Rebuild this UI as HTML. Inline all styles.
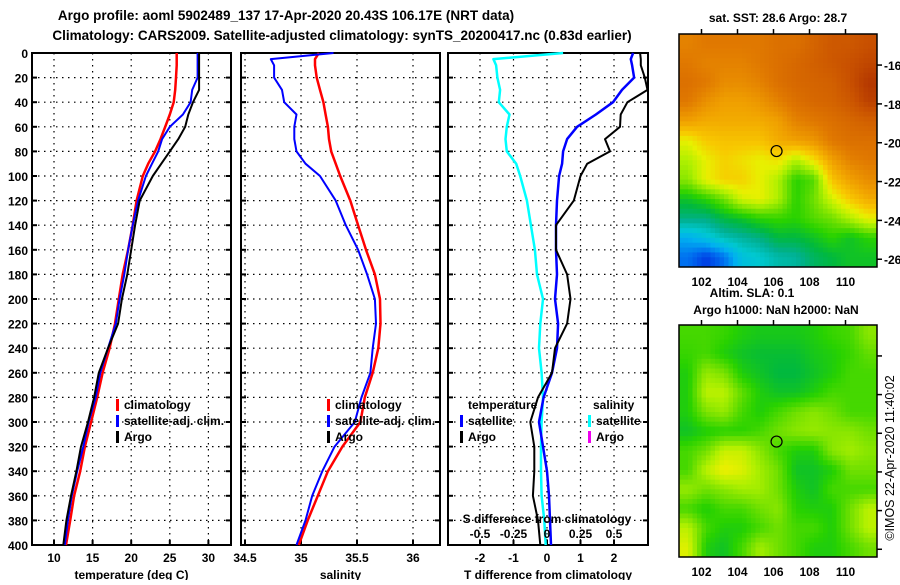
<!DOCTYPE html>
<html><head><meta charset="utf-8"><style>
body{margin:0;background:#fff;width:900px;height:580px;overflow:hidden}
svg text{font-family:"Liberation Sans",sans-serif;font-weight:bold;font-size:12px;fill:#000}
</style></head><body>
<svg id="fig" width="900" height="580" xmlns="http://www.w3.org/2000/svg">
<text x="286" y="20" text-anchor="middle" style="font-size:13.5px">Argo profile: aoml 5902489_137 17-Apr-2020 20.43S 106.17E (NRT data)</text>
<text x="342" y="40" text-anchor="middle" style="font-size:13.5px">Climatology: CARS2009. Satellite-adjusted climatology: synTS_20200417.nc (0.83d earlier)</text>
<text x="778" y="22" text-anchor="middle">sat. SST: 28.6 Argo: 28.7</text>
<text x="752" y="297" text-anchor="middle">Altim. SLA: 0.1</text>
<text x="776" y="314" text-anchor="middle">Argo h1000: NaN h2000: NaN</text>
<text transform="translate(894,458) rotate(-90)" text-anchor="middle" style="font-weight:normal;font-size:12.5px">©IMOS 22-Apr-2020 11:40:02</text>
</svg>
<script>
const depths=[0,5,10,20,30,40,50,60,70,80,90,100,120,140,160,180,200,220,240,260,280,300,320,340,360,380,400];
const tempClim=[25.9,25.9,25.9,25.8,25.7,25.5,25.0,24.4,23.8,23.1,22.2,21.5,20.7,20.2,19.6,18.9,18.4,17.9,17.2,16.3,15.6,14.8,14.0,13.4,12.6,12.1,11.55];
const tempSat=[28.6,28.6,28.6,28.6,27.9,27.7,26.7,25.0,24.0,23.5,22.7,21.9,20.9,20.2,19.6,19.1,18.5,18.0,17.0,16.0,15.4,14.5,13.8,13.0,12.3,11.8,11.4];
const tempArgo=[28.8,28.8,28.8,28.8,28.8,28.0,27.4,27.0,26.1,25.0,23.9,22.8,21.1,20.5,20.0,19.5,18.8,18.3,17.0,15.8,15.2,14.4,13.5,12.9,12.2,11.6,11.2];
const salClim=[35.16,35.125,35.125,35.14,35.17,35.2,35.22,35.24,35.25,35.27,35.31,35.35,35.44,35.51,35.58,35.66,35.705,35.71,35.69,35.64,35.57,35.53,35.37,35.24,35.15,35.06,34.98];
const salSat=[35.29,34.73,34.76,34.76,34.83,34.85,34.96,34.94,34.94,34.96,35.04,35.17,35.31,35.4,35.51,35.59,35.66,35.67,35.64,35.62,35.54,35.48,35.3,35.19,35.1,35.04,34.96];
const tDiffSat=[2.57,2.5,2.54,2.6,2.24,1.97,1.46,0.9,0.6,0.48,0.45,0.36,0.3,0.27,0.27,0.3,0.24,0.33,0.3,0.15,-0.1,-0.24,-0.12,0,0.06,0.09,0.12];
const tDiffArgo=[2.78,2.8,2.8,2.92,3.0,2.4,2.2,2.18,1.73,1.88,1.2,1.0,0.8,0.27,0.27,0.6,0.7,0.6,0.24,0.15,-0.27,-0.5,-0.38,-0.38,-0.42,-0.27,-0.2];
const sDiffSat=[0.12,-0.4,-0.38,-0.37,-0.35,-0.36,-0.28,-0.3,-0.31,-0.3,-0.23,-0.2,-0.15,-0.12,-0.09,-0.075,-0.03,-0.05,-0.06,-0.04,-0.03,-0.04,-0.045,-0.045,-0.04,-0.02,-0.01];
const depthTicks=[0,20,40,60,80,100,120,140,160,180,200,220,240,260,280,300,320,340,360,380,400];
const tempTicks=[10,15,20,25,30];
const salTicks=[34.5,35,35.5,36];
const tDiffTicks=[-2,-1,0,1,2];
const sDiffTicks=[-0.5,-0.25,0,0.25,0.5];
const sDiffTickLabels=["-0.5","-0.25","0","0.25","0.5"];
const latTicks=[-16,-18,-20,-22,-24,-26];
const lonTicks=[102,104,106,108,110];
const argoLon=106.17, argoLat=-20.43;
const sstGrid=[
[.78,.8,.8,.8,.8,.82,.82,.85,.88,.88,.9],
[.8,.78,.78,.78,.8,.82,.84,.86,.88,.9,.92],
[.82,.8,.76,.76,.78,.82,.84,.85,.86,.9,.95],
[.8,.75,.72,.72,.74,.78,.82,.84,.85,.88,.93],
[.72,.7,.7,.7,.7,.72,.78,.8,.82,.84,.86],
[.6,.65,.66,.66,.66,.7,.72,.74,.8,.82,.82],
[.55,.6,.64,.62,.6,.62,.55,.62,.72,.78,.8],
[.52,.6,.64,.64,.6,.55,.45,.48,.66,.72,.76],
[.42,.45,.5,.58,.6,.55,.45,.5,.58,.65,.7],
[.36,.36,.4,.42,.45,.46,.45,.48,.5,.55,.6],
[.25,.28,.32,.34,.36,.4,.4,.42,.45,.42,.45],
[.2,.16,.2,.28,.3,.33,.34,.38,.4,.42,.42]];
const slaGrid=[
[.47,.47,.46,.44,.43,.43,.43,.44,.46,.47,.52],
[.46,.47,.44,.42,.41,.41,.41,.43,.44,.46,.49],
[.44,.53,.51,.44,.42,.4,.4,.42,.44,.47,.47],
[.44,.56,.56,.49,.44,.42,.42,.44,.47,.47,.47],
[.44,.51,.53,.47,.44,.47,.5,.52,.5,.47,.47],
[.42,.44,.45,.45,.47,.5,.52,.53,.52,.52,.5],
[.47,.5,.57,.57,.52,.47,.44,.44,.52,.54,.52],
[.47,.56,.61,.59,.54,.5,.42,.42,.44,.5,.5],
[.53,.5,.52,.54,.54,.5,.44,.42,.47,.47,.47],
[.47,.44,.47,.47,.5,.52,.45,.44,.44,.5,.56],
[.56,.47,.44,.44,.47,.5,.47,.47,.44,.5,.56],
[.59,.44,.42,.47,.54,.5,.47,.44,.44,.47,.5]];

const NS="http://www.w3.org/2000/svg";
const svg=document.getElementById('fig');
function mk(tag,attrs,parent){const e=document.createElementNS(NS,tag);for(const k in attrs)e.setAttribute(k,attrs[k]);(parent||svg).appendChild(e);return e;}
const Y=d=>53+d*1.23;
const PY0=53,PY1=545;
const tX=v=>54+(v-10)*7.72;
const sX=v=>301+(v-35)*112;
const dX=v=>547+v*33.5;
const sdX=v=>547+v*134;

function panel(name,x0,x1,ticks,fx,labels,xlabel,leftLabels){
  const g=mk('g',{});
  
  
  depthTicks.forEach(d=>{if(d>0&&d<400){const l=mk('line',{x1:x0,x2:x1,y1:Y(d),y2:Y(d),stroke:'#000','stroke-width':1.2,'stroke-dasharray':'1.5,4.5'},g);}
    const tk=mk('line',{x1:x0,x2:x0+5,y1:Y(d),y2:Y(d),stroke:'#000','stroke-width':2},g);
    const tk2=mk('line',{x1:x1-5,x2:x1,y1:Y(d),y2:Y(d),stroke:'#000','stroke-width':2},g);
    if(leftLabels){const t=mk('text',{x:x0-4,y:Y(d)+5,'text-anchor':'end'},g);t.textContent=d;}
  });
  ticks.forEach((v,i)=>{const x=fx(v);
    const l=mk('line',{x1:x,x2:x,y1:PY0,y2:PY1,stroke:'#000','stroke-width':1.2,'stroke-dasharray':'1.5,4.5'},g);
    const tk=mk('line',{x1:x,x2:x,y1:PY1-5,y2:PY1,stroke:'#000','stroke-width':2},g);
    const t=mk('text',{x:x,y:562,'text-anchor':'middle'},g);t.textContent=labels?labels[i]:v;
  });
  const r=mk('rect',{x:x0,y:PY0,width:x1-x0,height:PY1-PY0,fill:'none',stroke:'#000','stroke-width':2},g);
  
  const xl=mk('text',{x:(x0+x1)/2,y:579,'text-anchor':'middle'},g);xl.textContent=xlabel;
  
  return g;
}
function series(name,vals,fx,color,w,g){
  let d='';
  vals.forEach((v,i)=>{const x=fx(v),y=Y(depths[i]);d+=(i?'L':'M')+x.toFixed(1)+','+y.toFixed(1);});
  const p=mk('path',{d:d,fill:'none',stroke:color,'stroke-width':w,'stroke-linejoin':'round'},g);
  
  
}
function legend(g,x,y,items){
  items.forEach((it,i)=>{
    const m=mk('rect',{x:x,y:y+i*16-10,width:3,height:12,fill:it[1]},g);
    
    
    const t=mk('text',{x:x+8,y:y+i*16},g);t.textContent=it[0];
    
    
  });
}
const g1=panel('temperature-panel',32,231,tempTicks,tX,null,'temperature (deg C)',true);
series('temp-climatology-line',tempClim,tX,'#f00',2.5,g1);
series('temp-satellite-line',tempSat,tX,'#00f',2,g1);
series('temp-argo-line',tempArgo,tX,'#000',2,g1);
legend(g1,116,409,[['climatology','#f00'],['satellite-adj. clim.','#00f'],['Argo','#000']]);

const g2=panel('salinity-panel',241,440,salTicks,sX,null,'salinity',false);
series('sal-climatology-line',salClim,sX,'#f00',2.5,g2);
series('sal-satellite-line',salSat,sX,'#00f',2,g2);
legend(g2,327,409,[['climatology','#f00'],['satellite-adj. clim.','#00f'],['Argo','#000']]);

const g3=panel('difference-panel',448,648,tDiffTicks,dX,null,'T difference from climatology',false);
series('s-diff-satellite-line',sDiffSat,sdX,'#0ff',2.5,g3);
series('t-diff-satellite-line',tDiffSat,dX,'#00f',2.5,g3);
series('t-diff-argo-line',tDiffArgo,dX,'#000',2,g3);
let tt=mk('text',{x:468,y:409},g3);tt.textContent='temperature';
tt=mk('text',{x:593,y:409},g3);tt.textContent='salinity';
legend(g3,460,425,[['satellite','#00f'],['Argo','#000']]);
legend(g3,588,425,[['satellite','#0ff'],['Argo','#e0e']]);
tt=mk('text',{x:547,y:523,'text-anchor':'middle'},g3);tt.textContent='S difference  from climatology';
sDiffTicks.forEach((v,i)=>{const t=mk('text',{x:sdX(v),y:538,'text-anchor':'middle'},g3);t.textContent=sDiffTickLabels[i];
  });

const stops=[[0,[0,0,128]],[.1,[0,0,160]],[.15,[0,48,224]],[.2,[0,112,240]],[.25,[0,176,240]],[.3,[0,200,208]],[.35,[0,176,144]],[.4,[0,184,64]],[.45,[40,210,0]],[.5,[112,224,0]],[.55,[176,240,0]],[.6,[232,240,0]],[.65,[248,200,0]],[.72,[240,160,0]],[.8,[224,120,0]],[.9,[200,80,0]],[1,[160,32,0]]];
function cmap(v){v=Math.max(0,Math.min(1,v));for(let i=1;i<stops.length;i++){if(v<=stops[i][0]){const a=stops[i-1],b=stops[i],t=(v-a[0])/(b[0]-a[0]);return 'rgb('+a[1].map((c,k)=>Math.round(c+(b[1][k]-c)*t)).join(',')+')';}}return 'rgb(160,32,0)';}
const LON0=100.75,LON1=111.75,LATT=-14.4,LATB=-26.4;
function sample(grid,fr,fc){
  const R=grid.length,C=grid[0].length;
  let r=fr-0.5,c=fc-0.5;r=Math.max(0,Math.min(R-1,r));c=Math.max(0,Math.min(C-1,c));
  const r0=Math.floor(r),c0=Math.floor(c),r1=Math.min(R-1,r0+1),c1=Math.min(C-1,c0+1),tr=r-r0,tc=c-c0;
  return grid[r0][c0]*(1-tr)*(1-tc)+grid[r0][c1]*(1-tr)*tc+grid[r1][c0]*tr*(1-tc)+grid[r1][c1]*tr*tc;
}
function map(name,grid,top,bottom,showLat){
  const g=mk('g',{});
  
  
  const mx=lon=>679+(lon-LON0)*(198/(LON1-LON0));
  const my=lat=>top+(LATT-lat)*((bottom-top)/(LATT-LATB));
  const rows=grid.length,cols=grid[0].length,S=4;
  const cw=198/(cols*S),ch=(bottom-top)/(rows*S);
  for(let r=0;r<rows*S;r++)for(let c=0;c<cols*S;c++){
    const v=sample(grid,(r+0.5)/S,(c+0.5)/S);
    const cell=mk('rect',{x:(679+c*cw).toFixed(2),y:(top+r*ch).toFixed(2),width:(cw+0.4).toFixed(2),height:(ch+0.4).toFixed(2),fill:cmap(v)},g);
    
    
  }
  const fr=mk('rect',{x:679,y:top,width:198,height:bottom-top,fill:'none',stroke:'#000','stroke-width':1.5},g);
  
  latTicks.forEach(l=>{const y=my(l);
    const tk=mk('line',{x1:877,x2:882,y1:y,y2:y,stroke:'#000','stroke-width':1.5},g);
    if(showLat){const t=mk('text',{x:884,y:y+5},g);t.textContent=l;}});
  lonTicks.forEach(l=>{const x=mx(l);
    const tk=mk('line',{x1:x,x2:x,y1:top-5,y2:top,stroke:'#000','stroke-width':1.5},g);
    const t=mk('text',{x:x,y:bottom+19,'text-anchor':'middle'},g);t.textContent=l;});
  const c=mk('circle',{cx:mx(argoLon),cy:my(argoLat),r:5.5,fill:'none',stroke:'#000','stroke-width':1.2},g);
  
}
map('sst-map',sstGrid,34,267,true);
map('sla-map',slaGrid,325,557,false);
</script>
</body></html>
